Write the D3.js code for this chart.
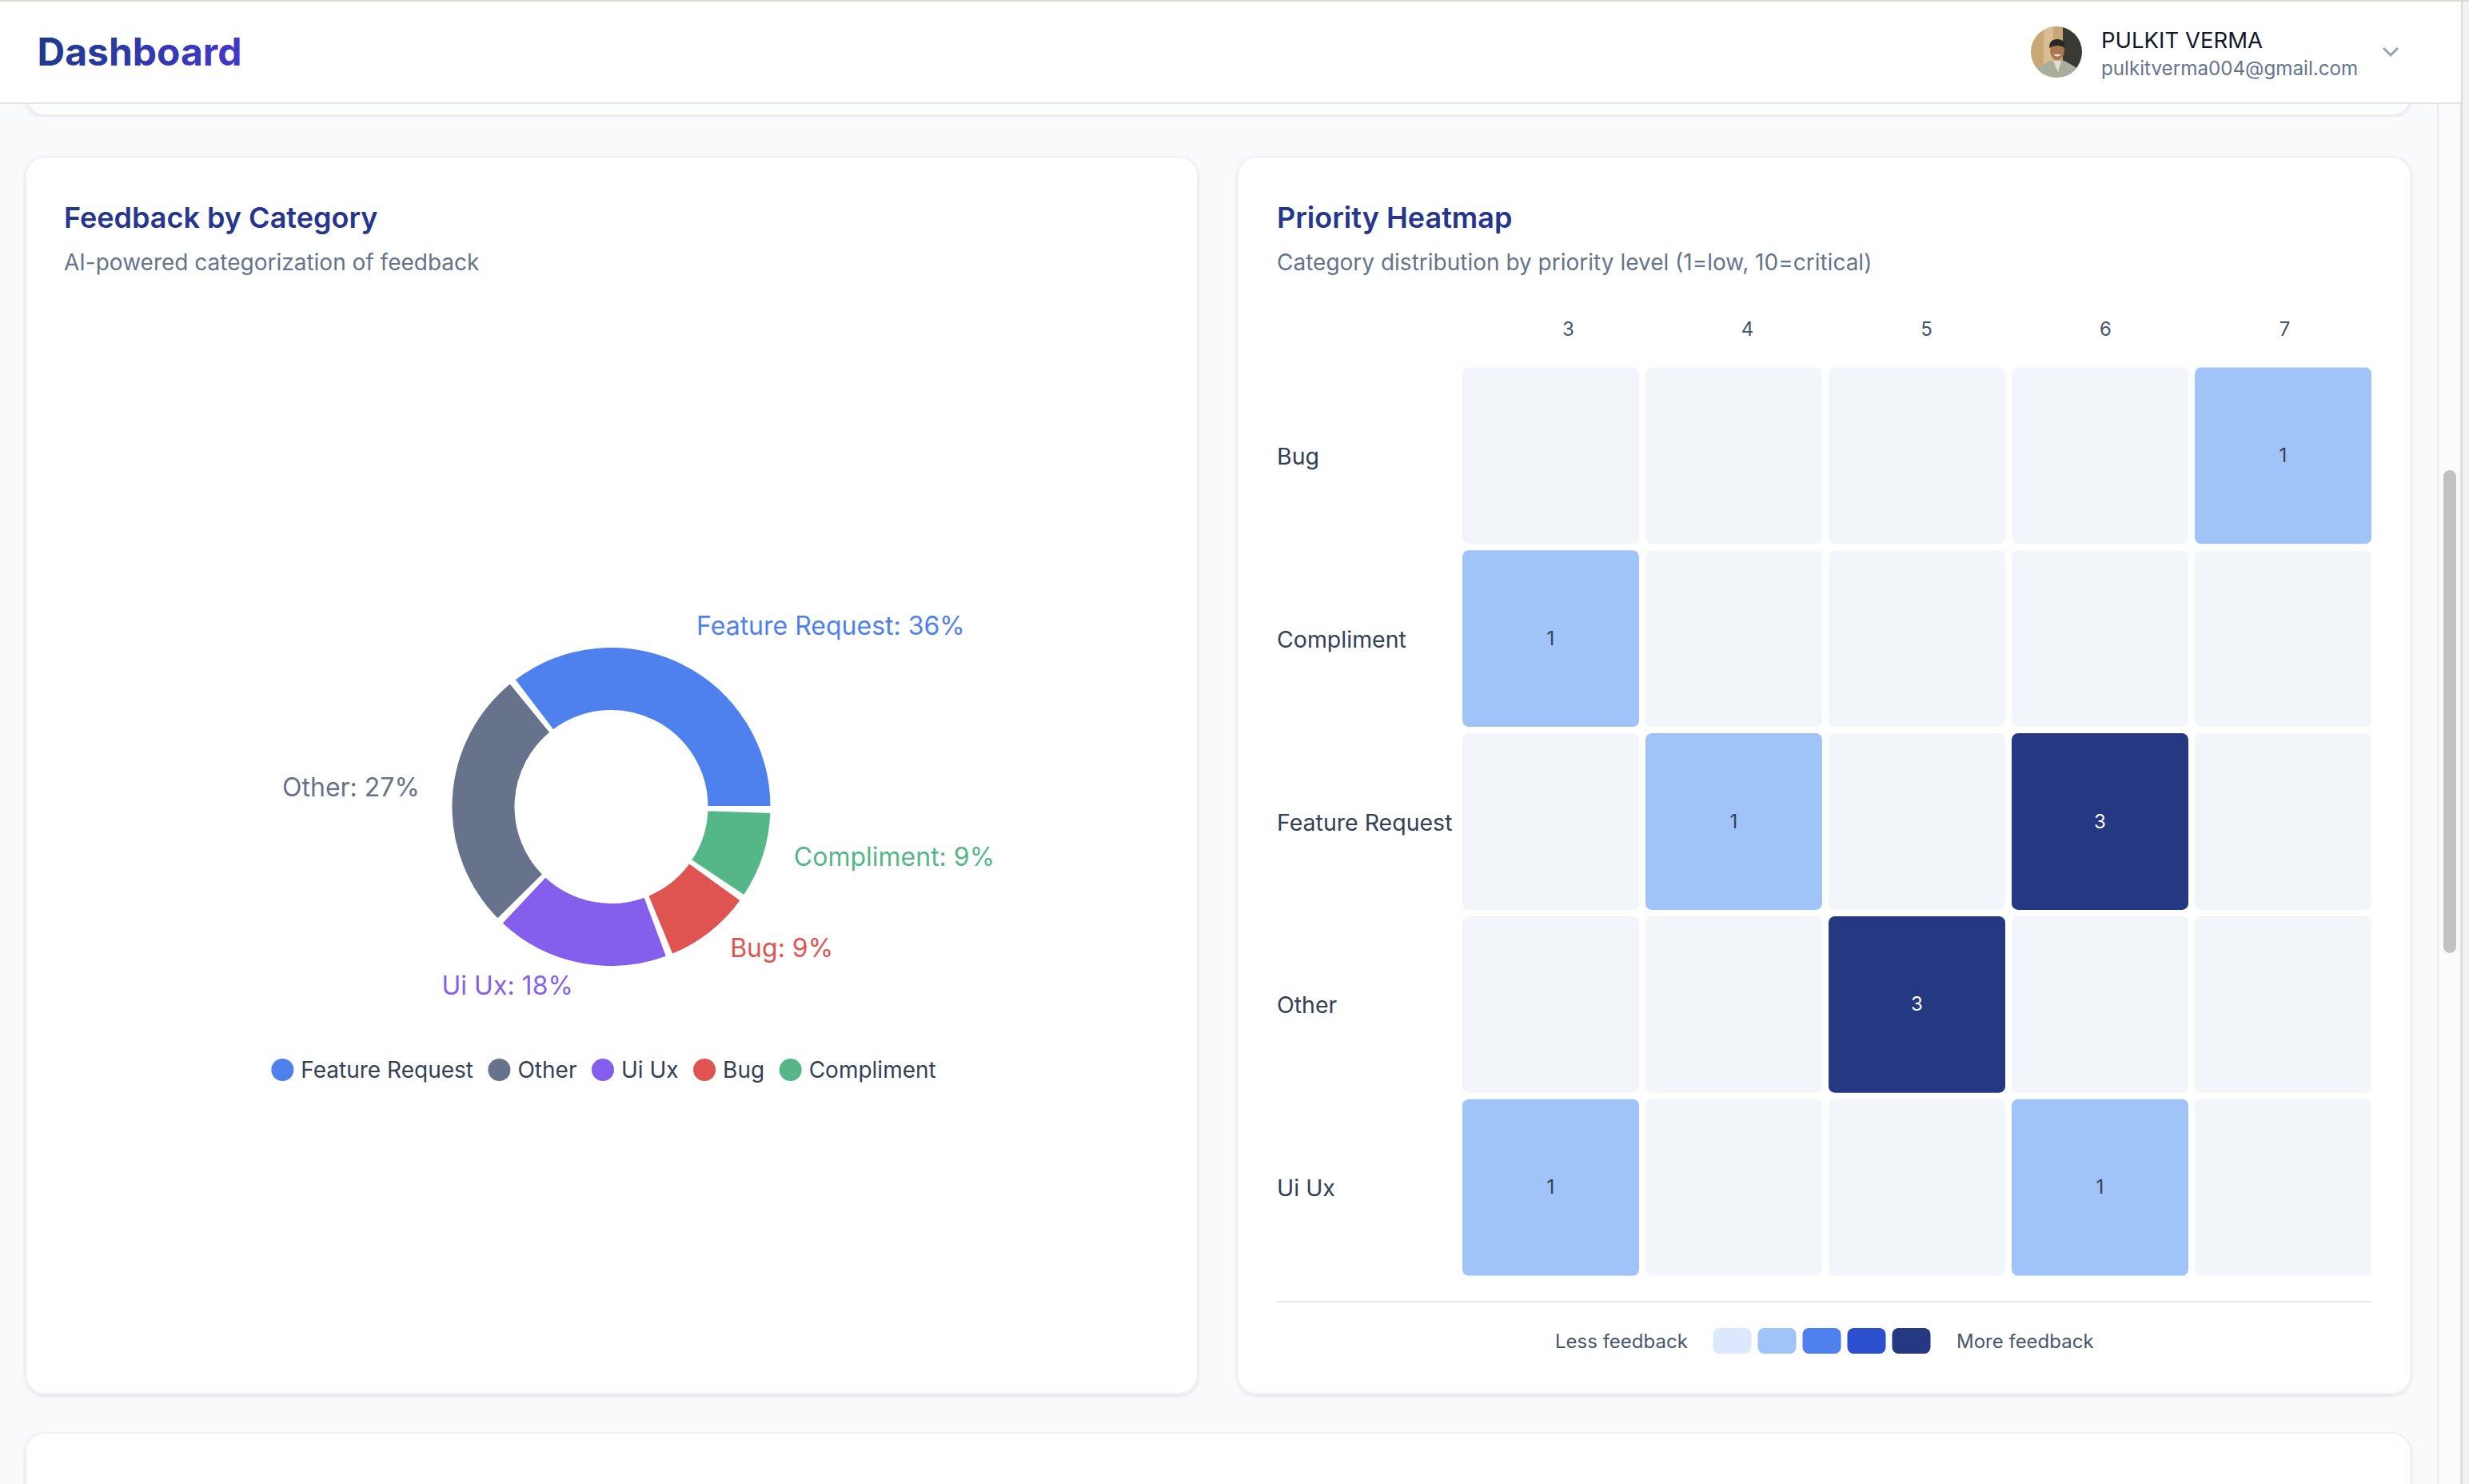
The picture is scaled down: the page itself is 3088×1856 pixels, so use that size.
<!DOCTYPE html>
<html lang="en">
<head>
<meta charset="utf-8">
<title>Dashboard</title>
<script src="https://cdn.jsdelivr.net/npm/d3@7"></script>
<style>
  html, body { margin: 0; padding: 0; background: #f9fafb; overflow: hidden; }
  svg { display: block; }
  text { font-family: Inter, "Noto Sans", sans-serif; }
</style>
</head>
<body>
<script>
// Donut data
var categories = ["Feature Request", "Other", "Ui Ux", "Bug", "Compliment"];
var categoryCounts = [4, 3, 2, 1, 1];
var categoryColors = ["#4e81ee", "#66738a", "#845fee", "#df5350", "#55b687"];

// Heatmap data
var heatRows = ["Bug", "Compliment", "Feature Request", "Other", "Ui Ux"];
var heatCols = [3, 4, 5, 6, 7];
var heatValues = [
    [0, 0, 0, 0, 1],
    [1, 0, 0, 0, 0],
    [0, 1, 0, 3, 0],
    [0, 0, 3, 0, 0],
    [1, 0, 0, 1, 0]
];
var heatLegend = ["#dce8fb", "#a0c4f8", "#4e81ee", "#2c4fd0", "#253882"];
var emptyCell = "#f2f5fa";

var titleColor = "#25368c";

var W = 3088, H = 1856;
var svg = d3.select("body").append("svg").attr("width", W).attr("height", H);
var defs = svg.append("defs");

var grad = defs.append("linearGradient").attr("id", "titleGrad");
grad.append("stop").attr("offset", "0%").attr("stop-color", "#1e3a8a");
grad.append("stop").attr("offset", "100%").attr("stop-color", "#4338ca");

var blur = defs.append("filter").attr("id", "cardShadow")
    .attr("x", "-2%").attr("y", "-2%").attr("width", "104%").attr("height", "104%");
blur.append("feDropShadow").attr("dx", 0).attr("dy", 2).attr("stdDeviation", 2)
    .attr("flood-color", "#0f172a").attr("flood-opacity", 0.1);

function label(g, x, y, str, size, color, weight, anchor) {
    return g.append("text").attr("x", x).attr("y", y).text(str)
        .attr("font-size", size).attr("fill", color)
        .attr("font-weight", weight || 400)
        .attr("text-anchor", anchor || "start");
}

//Page chrome and cards
function card(x, y, w, h) {
    svg.append("rect").attr("x", x).attr("y", y).attr("width", w).attr("height", h)
        .attr("rx", 24).attr("fill", "#fff").attr("stroke", "#eef1f5").attr("stroke-width", 2)
        .attr("filter", "url(#cardShadow)");
}
svg.append("rect").attr("x", 3049).attr("y", 0).attr("width", 27).attr("height", H).attr("fill", "#fbfbfb");
svg.append("line").attr("x1", 3049).attr("x2", 3049).attr("y1", 0).attr("y2", H).attr("stroke", "#e9e9e9").attr("stroke-width", 2);
svg.append("rect").attr("x", 3076).attr("y", 0).attr("width", 2).attr("height", H).attr("fill", "#ececec");
svg.append("rect").attr("x", 3056).attr("y", 588).attr("width", 16).attr("height", 604).attr("rx", 8).attr("fill", "#c2c2c2");
svg.append("rect").attr("x", 3078).attr("y", 0).attr("width", 2).attr("height", H).attr("fill", "#dcdcd4");
svg.append("rect").attr("x", 3080).attr("y", 0).attr("width", 8).attr("height", H).attr("fill", "#f3f2ef");

card(33, 60, 2982, 84);
card(32, 196, 1466, 1547);
card(1548, 196, 1467, 1547);
card(32, 1792, 2983, 200);

svg.append("rect").attr("x", 0).attr("y", 0).attr("width", 3078).attr("height", 128).attr("fill", "#fff");
svg.append("rect").attr("x", 0).attr("y", 0).attr("width", W).attr("height", 2).attr("fill", "#dcdcd4");
svg.append("line").attr("x1", 0).attr("x2", 3078).attr("y1", 129).attr("y2", 129).attr("stroke", "#e2e8f0").attr("stroke-width", 2);

// Header
label(svg, 46.5, 82, "Dashboard", 48, "url(#titleGrad)", 700);

var avatar = svg.append("g");
defs.append("clipPath").attr("id", "avatarClip").append("circle").attr("cx", 2572).attr("cy", 65).attr("r", 32);
avatar.attr("clip-path", "url(#avatarClip)");
avatar.append("rect").attr("x", 2540).attr("y", 33).attr("width", 42).attr("height", 64).attr("fill", "#c9a878");
avatar.append("rect").attr("x", 2556).attr("y", 33).attr("width", 12).attr("height", 64).attr("fill", "#d8be90");
avatar.append("rect").attr("x", 2580).attr("y", 33).attr("width", 24).attr("height", 64).attr("fill", "#3a3a35");
avatar.append("path").attr("d", "M2546 97 L2550 84 L2564 76 L2582 76 L2596 84 L2600 97 Z").attr("fill", "#a9ad9c");
avatar.append("path").attr("d", "M2568 76 L2574 90 L2578 76 Z").attr("fill", "#e4e0d2");
avatar.append("ellipse").attr("cx", 2573).attr("cy", 63).attr("rx", 9).attr("ry", 12).attr("fill", "#a8784f");
avatar.append("path").attr("d", "M2563 60 Q2563 49 2573 49 Q2583 49 2583 60 Q2573 54 2563 60 Z").attr("fill", "#2a2725");
avatar.append("path").attr("d", "M2568 68 Q2573 73 2578 68 Z").attr("fill", "#f0e6dc");

label(svg, 2628, 60, "PULKIT VERMA", 27.5, "#0f172a", 400);
label(svg, 2628, 94, "pulkitverma004@gmail.com", 24.2, "#64748b", 400);
svg.append("path").attr("d", "M2981 60 L2990 69 L2999 60").attr("fill", "none")
    .attr("stroke", "#94a3b8").attr("stroke-width", 3);

// Card titles
label(svg, 80, 285, "Feedback by Category", 36, titleColor, 600);
label(svg, 80, 338, "AI-powered categorization of feedback", 28, "#64748b", 400);
label(svg, 1597, 285, "Priority Heatmap", 36, titleColor, 600);
label(svg, 1597, 338, "Category distribution by priority level (1=low, 10=critical)", 28, "#64748b", 400);

//Donut
var cx = 764.5, cy = 1009, outerR = 200, innerR = 120;
var padDeg = 2 * Math.PI / 180;

var pie = d3.pie().sort(null).value(function (d) { return d.count; })
    .startAngle(Math.PI / 2).endAngle(Math.PI / 2 - 2 * Math.PI).padAngle(padDeg);

var slices = pie(categories.map(function (c, i) {
    return { name: c, count: categoryCounts[i], color: categoryColors[i] };
}));

// pie() folds the pad into endAngle, the gap here is left out of the slice
var arc = d3.arc().innerRadius(innerR).outerRadius(outerR)
    .startAngle(function (d) { return d.startAngle; })
    .endAngle(function (d) { return d.endAngle + d.padAngle; })
    .padAngle(0);
var labelArc = d3.arc().innerRadius(240).outerRadius(240)
    .startAngle(function (d) { return d.startAngle; })
    .endAngle(function (d) { return d.endAngle + d.padAngle; })
    .padAngle(0);

var donut = svg.append("g").attr("transform", "translate(" + cx + "," + cy + ")");
donut.selectAll("path").data(slices).enter().append("path")
    .attr("d", arc)
    .attr("fill", function (d) { return d.data.color; })
    .attr("stroke", "#fff").attr("stroke-width", 2);

var total = d3.sum(categoryCounts);
donut.selectAll("text").data(slices).enter().append("text")
    .attr("x", function (d) { return labelArc.centroid(d)[0]; })
    .attr("y", function (d) { return labelArc.centroid(d)[1]; })
    .attr("text-anchor", function (d) { return labelArc.centroid(d)[0] >= 0 ? "start" : "end"; })
    .attr("font-size", 32)
    .attr("fill", function (d) { return d.data.color; })
    .text(function (d) { return d.data.name + ": " + Math.round(d.value / total * 100) + "%"; });

// Donut legend, laid out from the text widths
var legend = svg.append("g");
var legendX = 0;
categories.forEach(function (c, i) {
    var item = legend.append("g").attr("transform", "translate(" + legendX + ",1338)");
    item.append("circle").attr("cx", 14).attr("cy", 0).attr("r", 14).attr("fill", categoryColors[i]);
    var t = item.append("text").attr("x", 37).attr("y", 10).attr("font-size", 28)
        .attr("fill", "#334155").text(c);
    legendX += 37 + t.node().getComputedTextLength() + 18.5;
});
legend.attr("transform", "translate(" + (755 - (legendX - 18.5) / 2) + ",0)");

//Heatmap
var xBand = d3.scaleBand().domain(heatCols).range([1829, 2966]).paddingInner(8 / 229);
var yBand = d3.scaleBand().domain(heatRows).range([459.5, 1595.5]).paddingInner(8 / 229);
// the header row sits in its own grid, so it does not line up with the cells
var xHead = d3.scalePoint().domain(heatCols).range([1961, 2857]);
var heatColor = d3.scaleOrdinal().domain([0, 1, 3]).range([emptyCell, heatLegend[1], heatLegend[4]]);

var xAxis = svg.append("g").attr("transform", "translate(0,420)")
    .call(d3.axisTop(xHead).tickSize(0).tickPadding(0));
xAxis.select(".domain").remove();
xAxis.selectAll("text").attr("font-size", 24).attr("fill", "#475569").attr("font-family", null);

var yAxis = svg.append("g").attr("transform", "translate(1829,2)")
    .call(d3.axisLeft(yBand).tickSize(0).tickPadding(0));
yAxis.select(".domain").remove();
yAxis.selectAll("text").attr("x", 1597 - 1829).attr("text-anchor", "start")
    .attr("font-size", 28.5).attr("fill", "#334155").attr("font-family", null);

var cells = [];
heatRows.forEach(function (r, i) {
    heatCols.forEach(function (c, j) {
        cells.push({ row: r, col: c, value: heatValues[i][j] });
    });
});

svg.append("g").selectAll("rect").data(cells).enter().append("rect")
    .attr("x", function (d) { return xBand(d.col); })
    .attr("y", function (d) { return yBand(d.row); })
    .attr("width", xBand.bandwidth()).attr("height", yBand.bandwidth())
    .attr("rx", 8)
    .attr("fill", function (d) { return heatColor(d.value); });

svg.append("g").selectAll("text").data(cells.filter(function (d) { return d.value > 0; })).enter().append("text")
    .attr("x", function (d) { return xBand(d.col) + xBand.bandwidth() / 2; })
    .attr("y", function (d) { return yBand(d.row) + yBand.bandwidth() / 2 + 8; })
    .attr("text-anchor", "middle").attr("font-size", 24)
    .attr("fill", function (d) { return d.value === 3 ? "#fff" : "#334155"; })
    .text(function (d) { return d.value; });

// Heatmap legend
svg.append("line").attr("x1", 1597).attr("x2", 2966).attr("y1", 1628).attr("y2", 1628)
    .attr("stroke", "#e2e8f0").attr("stroke-width", 2);
label(svg, 1945, 1686, "Less feedback", 24, "#475569");
label(svg, 2447, 1686, "More feedback", 24, "#475569");
svg.append("g").selectAll("rect").data(heatLegend).enter().append("rect")
    .attr("x", function (d, i) { return 2142.5 + i * 56; })
    .attr("y", 1661).attr("width", 48).attr("height", 32).attr("rx", 8)
    .attr("fill", function (d) { return d; });
</script>
</body>
</html>
